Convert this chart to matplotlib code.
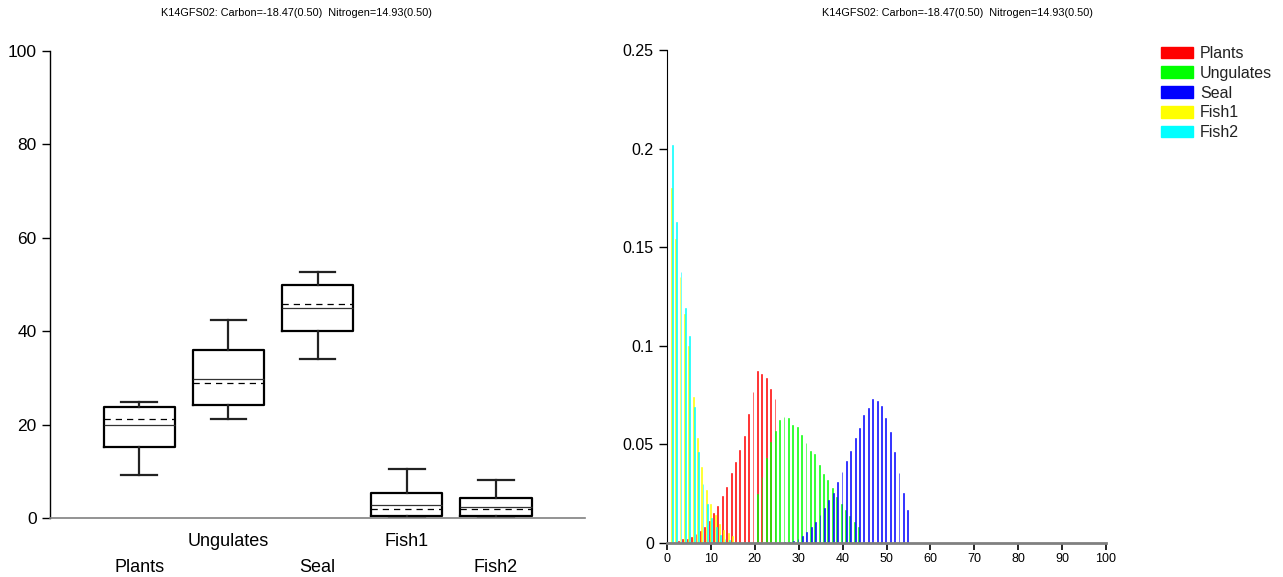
import numpy as np
import matplotlib
matplotlib.use("Agg")
import matplotlib.pyplot as plt
from matplotlib.patches import Patch
import matplotlib.transforms as mtransforms

plt.rcParams['font.family'] = ['Liberation Sans', 'DejaVu Sans']

# --- DATA ---
TITLE = "K14GFS02: Carbon=-18.47(0.50)  Nitrogen=14.93(0.50)"
sources = ["Plants", "Ungulates", "Seal", "Fish1", "Fish2"]
colors = ["#ff0000", "#00ff00", "#0000ff", "#ffff00", "#00ffff"]

# box plot statistics (% contribution)
whis_lo = [9.3, 21.3, 34.0, 0.0, 0.0]
q1 = [15.1, 24.1, 40.0, 0.5, 0.5]
median = [19.9, 29.8, 45.0, 2.85, 2.4]
mean = [21.1, 28.9, 45.9, 1.95, 1.9]
q3 = [23.8, 35.9, 49.9, 5.3, 4.2]
whis_hi = [24.8, 42.3, 52.7, 10.5, 8.2]

# probability distributions (bin start and heights per source)
plants_start = 1.6
plants_p = [0.0007, 0.0010, 0.0019, 0.0022, 0.0032, 0.0046, 0.0061, 0.0083,
            0.0112, 0.0152, 0.0188, 0.0237, 0.0286, 0.0353, 0.0412, 0.0471,
            0.0544, 0.0656, 0.0764, 0.0874, 0.0855, 0.0835, 0.0783, 0.0729]
ungulates_start = 20.65
ungulates_p = [0.0248, 0.0336, 0.0433, 0.0511, 0.0568, 0.0624, 0.0637, 0.0632,
               0.0598, 0.0590, 0.0548, 0.0509, 0.0466, 0.0451, 0.0396, 0.0350,
               0.0320, 0.0281, 0.0232, 0.0200, 0.0167, 0.0135, 0.0105, 0.0083]
seal_start = 24.85
seal_p = [0.0002, 0.0002, 0.0003, 0.0007, 0.0010, 0.0022, 0.0036, 0.0056,
          0.0081, 0.0105, 0.0141, 0.0180, 0.0218, 0.0255, 0.0308, 0.0362,
          0.0418, 0.0467, 0.0533, 0.0583, 0.0649, 0.0685, 0.0729, 0.0720,
          0.0695, 0.0632, 0.0565, 0.0461, 0.0353, 0.0255, 0.0167]
fish1_start = 0.95
fish1_p = [0.180, 0.154, 0.135, 0.116, 0.100, 0.074, 0.053, 0.0387, 0.027,
           0.0198, 0.014, 0.0096, 0.0066, 0.0050, 0.0035]
fish2_start = 1.2
fish2_p = [0.202, 0.163, 0.1376, 0.119, 0.105, 0.069, 0.046, 0.030, 0.020,
           0.0127, 0.008, 0.004, 0.002, 0.0015]

# --- FIGURE ---
fig = plt.figure(figsize=(12.83, 5.77), dpi=100)
W, H = 1283, 577

def ax_rect(x0, x1, y_top, y_bot):
    return [x0 / W, 1 - y_bot / H, (x1 - x0) / W, (y_bot - y_top) / H]

# --- LEFT: box plots ---
ax1 = fig.add_axes(ax_rect(50, 585, 51, 518))
stats = []
for i, name in enumerate(sources):
    stats.append(dict(label=name, whislo=whis_lo[i], q1=q1[i], med=median[i],
                      mean=mean[i], q3=q3[i], whishi=whis_hi[i], fliers=[]))
pos = np.arange(1, len(sources) + 1)
ax1.bxp(stats, positions=pos, widths=0.8, showmeans=True, meanline=True,
        showfliers=False, capwidths=0.4,
        boxprops=dict(color="black", linewidth=1.6),
        whiskerprops=dict(color="#222222", linewidth=1.6),
        capprops=dict(color="#222222", linewidth=1.6),
        medianprops=dict(color="#333333", linewidth=0.9),
        meanprops=dict(color="black", linewidth=0.9, linestyle=(0, (5, 4))))
ax1.set_xlim(0, 6)
ax1.set_ylim(0, 100)
ax1.set_yticks([0, 20, 40, 60, 80, 100])
ax1.tick_params(axis='y', labelsize=12.5, length=6, width=1, direction='out')
ax1.set_xticks([])
for s in ["top", "right"]:
    ax1.spines[s].set_visible(False)
ax1.spines["bottom"].set_color("#808080")
ax1.spines["bottom"].set_linewidth(1.2)
ax1.spines["left"].set_linewidth(1.0)
trans = mtransforms.blended_transform_factory(ax1.transData, fig.transFigure)
for i, name in enumerate(sources):
    y = 1 - (541 if i % 2 == 1 else 567) / H
    ax1.text(pos[i], y, name, transform=trans, ha='center', va='center',
             fontsize=13)

# --- RIGHT: distributions ---
ax2 = fig.add_axes(ax_rect(667, 1106, 50, 543))
series = [(plants_start, plants_p), (ungulates_start, ungulates_p),
          (seal_start, seal_p), (fish1_start, fish1_p), (fish2_start, fish2_p)]
for (start, p), c in zip(series, colors):
    x = start + np.arange(len(p))
    ax2.bar(x, p, width=0.2, color=c, edgecolor=c, linewidth=0.4)
ax2.set_xlim(0, 100)
ax2.set_ylim(0, 0.25)
ax2.set_xticks(np.arange(0, 101, 10))
ax2.set_yticks([0, 0.05, 0.1, 0.15, 0.2, 0.25])
ax2.set_yticklabels(["0", "0.05", "0.1", "0.15", "0.2", "0.25"])
ax2.tick_params(axis='y', labelsize=11.5, length=6, width=1)
ax2.tick_params(axis='x', labelsize=9, length=5, width=1.2, pad=2)
for s in ["top", "right"]:
    ax2.spines[s].set_visible(False)
ax2.spines["bottom"].set_color("#808080")
ax2.spines["bottom"].set_linewidth(2)
ax2.spines["bottom"].set_zorder(3)

handles = [Patch(facecolor=c, edgecolor=c) for c in colors]
leg = fig.legend(handles, sources, loc='upper left',
                 bbox_to_anchor=(1161 / W, 1 - 46 / H), frameon=False,
                 fontsize=11.5, handlelength=2.0, handleheight=0.75,
                 handletextpad=0.45, labelspacing=0.3, borderpad=0,
                 borderaxespad=0)
for t in leg.get_texts():
    t.set_color("#222222")

# --- TITLES ---
fig.text(296 / W, 1 - 13 / H, TITLE, ha='center', va='center', fontsize=7.8)
fig.text(957 / W, 1 - 13 / H, TITLE, ha='center', va='center', fontsize=7.8)

fig.savefig("out.png", dpi=100)
plt.close(fig)
